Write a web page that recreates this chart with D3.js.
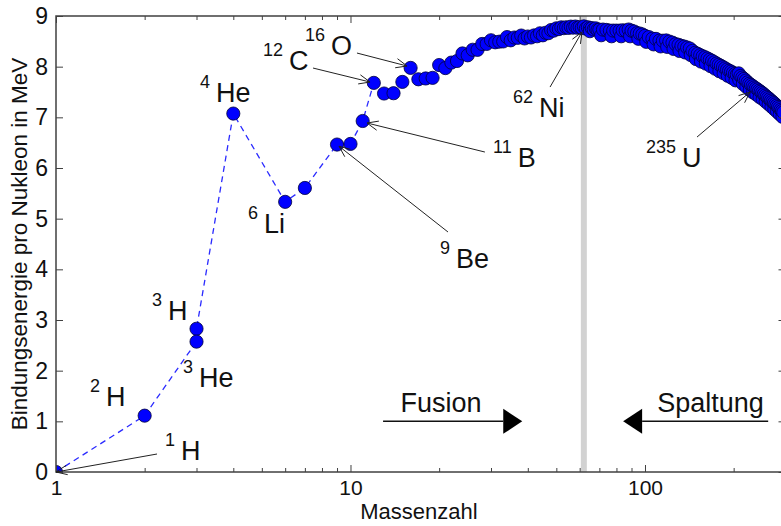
<!DOCTYPE html>
<html>
<head>
<meta charset="utf-8">
<script src="https://cdn.jsdelivr.net/npm/d3@7"></script>
<style>
  body { margin: 0; background: #fff; }
  svg { display: block; font-family: "Liberation Sans", Arial, sans-serif; }
</style>
</head>
<body>
<div id="chart"></div>
<script>
// mass number A and binding energy per nucleon (MeV)
const massNumber = [1, 2, 3, 3, 4, 6, 7, 9, 10, 11, 12, 13, 14, 15, 16, 17, 18, 19, 20,
  21, 22, 23, 24, 25, 26, 27, 28, 29, 30, 31, 32, 33, 34, 35, 36, 37, 38, 39, 40,
  41, 42, 43, 44, 45, 46, 47, 48, 49, 50, 51, 52, 53, 54, 55, 56, 57, 58, 59, 60,
  61, 62, 63, 64, 65, 66, 67, 68, 69, 70, 72, 74, 76, 78, 80, 82, 84, 86, 88, 90,
  92, 94, 96, 98, 100, 103, 106, 109, 112, 115, 118, 121, 124, 127, 130, 133, 136,
  139, 142, 145, 148, 151, 154, 157, 160, 163, 166, 169, 172, 175, 178, 181, 184,
  187, 190, 193, 196, 199, 202, 205, 208, 211, 214, 217, 220, 223, 226, 229, 232,
  235, 238, 241, 244, 247, 250, 253, 256, 259, 262, 265, 268, 271, 274, 277, 280,
  283, 286, 289, 292, 295];
const bindingEnergy = [0, 1.112, 2.827, 2.573, 7.074, 5.332, 5.606, 6.463, 6.475, 6.928,
  7.680, 7.470, 7.476, 7.699, 7.976, 7.751, 7.767, 7.779, 8.032,
  7.972, 8.080, 8.112, 8.261, 8.224, 8.334, 8.332, 8.448, 8.449, 8.521, 8.481, 8.493,
  8.498, 8.584, 8.520, 8.575, 8.570, 8.614, 8.557, 8.595,
  8.576, 8.616, 8.600, 8.658, 8.619, 8.669, 8.661, 8.723, 8.711, 8.756, 8.742, 8.776,
  8.760, 8.778, 8.765, 8.790, 8.770, 8.792, 8.768, 8.781,
  8.765, 8.795, 8.752, 8.777, 8.757, 8.760, 8.734, 8.756, 8.725, 8.730, 8.732, 8.725,
  8.711, 8.712, 8.711, 8.711, 8.718, 8.712, 8.733, 8.710,
  8.693, 8.660, 8.654, 8.635, 8.608, 8.584, 8.553, 8.548, 8.514, 8.512, 8.517, 8.495,
  8.474, 8.445, 8.431, 8.410, 8.396,
  8.378, 8.359, 8.312, 8.274, 8.253, 8.227, 8.205, 8.185, 8.162, 8.138, 8.115, 8.087,
  8.061, 8.038, 8.016, 7.990,
  7.967, 7.943, 7.920, 7.903, 7.880, 7.856, 7.840, 7.868, 7.815, 7.785, 7.757, 7.726,
  7.691, 7.662, 7.640, 7.615,
  7.591, 7.570, 7.550, 7.525, 7.505, 7.480, 7.455, 7.430, 7.405, 7.380, 7.355, 7.330,
  7.305, 7.280, 7.255, 7.230,
  7.205, 7.180, 7.150, 7.125, 7.100];
// further (less bound) isotopes that thicken the heavy band
const isoMass = [65, 71, 77, 83, 89, 95, 101, 107, 113, 119, 125, 131, 137, 143, 149,
  155, 161, 167, 173, 179, 185, 191, 197, 203, 209, 215, 221, 227, 233, 239, 245,
  251, 257, 263, 269, 275, 281, 287, 293];
const isoEnergy = [8.70, 8.62, 8.60, 8.60, 8.60, 8.55, 8.49, 8.44, 8.40, 8.39, 8.35,
  8.31, 8.28, 8.23, 8.15, 8.10, 8.06, 8.01, 7.96, 7.91, 7.87, 7.82, 7.78, 7.73, 7.74,
  7.66, 7.60, 7.54, 7.49, 7.45, 7.40, 7.36, 7.31, 7.26, 7.21, 7.16, 7.11, 7.06, 7.01];
// light nuclides joined by the dashed line (indices into the arrays above)
const lightChain = [0, 1, 3, 2, 4, 5, 6, 7, 8, 9, 10];

const xMajor = [1, 10, 100];
const xMinor = [2, 3, 4, 5, 6, 7, 8, 9, 20, 30, 40, 50, 60, 70, 80, 90, 200];
const yTicks = [0, 1, 2, 3, 4, 5, 6, 7, 8, 9];
const nickelA = 62;

// labels: superscript, symbol, label position, optional arrow [fromA, fromE, toA, toE]
const labels = [
  { sup: "1", sym: "H", a: 2.345, e: 0.237, arrow: [2.203, 0.355, 1.0, 0.0] },
  { sup: "2", sym: "H", a: 1.305, e: 1.303 },
  { sup: "3", sym: "H", a: 2.118, e: 3.0 },
  { sup: "3", sym: "He", a: 2.70, e: 1.678 },
  { sup: "4", sym: "He", a: 3.083, e: 7.302 },
  { sup: "6", sym: "Li", a: 4.487, e: 4.717 },
  { sup: "9", sym: "Be", a: 20.14, e: 4.026, arrow: [21.43, 4.737, 9.14, 6.43] },
  { sup: "11", sym: "B", a: 30.47, e: 6.019, arrow: [28.6, 6.315, 11.38, 6.888] },
  { sup: "12", sym: "C", a: 5.045, e: 7.934, arrow: [7.46, 7.973, 11.65, 7.697] },
  { sup: "16", sym: "O", a: 7.008, e: 8.23, arrow: [10.52, 8.269, 15.56, 8.013] },
  { sup: "62", sym: "Ni", a: 35.63, e: 7.006, arrow: [47.6, 7.598, 61.1, 8.684] },
  { sup: "235", sym: "U", a: 100.8, e: 6.019, arrow: [150.2, 6.611, 227.3, 7.5] }
];
// big process arrows: [fromA, toA, E], text at [A, E]
const processes = [
  { name: "Fusion", from: 12.9, to: 38.3, e: 1.0, ta: 20.3, te: 1.18 },
  { name: "Spaltung", from: 262, to: 84.3, e: 1.0, ta: 167, te: 1.18 }
];

const width = 781, height = 526;
const mLeft = 56, mRight = 785.5, mTop = 16, mBottom = 472;
const axisColor = "#404040";

const svg = d3.select("#chart").append("svg")
  .attr("width", width).attr("height", height);

const x = d3.scaleLog().domain([1, 300]).range([mLeft, mRight]);
const y = d3.scaleLinear().domain([0, 9]).range([mBottom, mTop]);

svg.append("defs").append("clipPath").attr("id", "plotclip")
  .append("rect").attr("x", mLeft).attr("y", mTop)
  .attr("width", mRight - mLeft).attr("height", mBottom - mTop);

const plot = svg.append("g").attr("clip-path", "url(#plotclip)");

// nickel-62 marker line
plot.append("line")
  .attr("x1", x(nickelA)).attr("x2", x(nickelA))
  .attr("y1", mTop).attr("y2", mBottom)
  .attr("stroke", "#d2d2d2").attr("stroke-width", 6);

// dashed line through the light nuclides
plot.append("path")
  .datum(lightChain)
  .attr("fill", "none")
  .attr("stroke", "#2a2aff")
  .attr("stroke-width", 1.3)
  .attr("stroke-dasharray", "6,4.5")
  .attr("d", d3.line().x(i => x(massNumber[i])).y(i => y(bindingEnergy[i])));

const points = massNumber.map((a, i) => ({ a: a, e: bindingEnergy[i] }))
  .concat(isoMass.map((a, i) => ({ a: a, e: isoEnergy[i] })))
  .sort((p, q) => p.a - q.a);

plot.append("g").selectAll("circle")
  .data(points)
  .join("circle")
  .attr("cx", d => x(d.a))
  .attr("cy", d => y(d.e))
  .attr("r", 6.6)
  .attr("fill", "#0000ff")
  .attr("stroke", "#00003a")
  .attr("stroke-width", 0.8);

// axes (ticks inward)
const tickFmt = d3.format("d");
function styleAxis(g) {
  g.select(".domain").remove();
  g.selectAll("line").attr("stroke", axisColor).attr("stroke-width", 1);
  g.selectAll("text").attr("fill", "#111").attr("font-family", "Liberation Sans, Arial, sans-serif");
}
svg.append("g").attr("transform", `translate(0,${mBottom})`)
  .call(d3.axisBottom(x).tickValues(xMajor).tickFormat(tickFmt).tickSizeInner(-7).tickSizeOuter(0).tickPadding(8))
  .call(styleAxis)
  .call(g => g.selectAll("text").attr("font-size", 21));
svg.append("g").attr("transform", `translate(0,${mBottom})`)
  .call(d3.axisBottom(x).tickValues(xMinor).tickFormat("").tickSizeInner(-4).tickSizeOuter(0))
  .call(styleAxis);
svg.append("g").attr("transform", `translate(0,${mTop})`)
  .call(d3.axisTop(x).tickValues(xMajor).tickFormat("").tickSizeInner(-7).tickSizeOuter(0))
  .call(styleAxis);
svg.append("g").attr("transform", `translate(0,${mTop})`)
  .call(d3.axisTop(x).tickValues(xMinor).tickFormat("").tickSizeInner(-4).tickSizeOuter(0))
  .call(styleAxis);
svg.append("g").attr("transform", `translate(${mLeft},0)`)
  .call(d3.axisLeft(y).tickValues(yTicks).tickFormat(tickFmt).tickSizeInner(-7).tickSizeOuter(0).tickPadding(8))
  .call(styleAxis)
  .call(g => g.selectAll("text").attr("font-size", 23));
svg.append("g").attr("transform", `translate(${mRight},0)`)
  .call(d3.axisRight(y).tickValues(yTicks).tickFormat("").tickSizeInner(-7).tickSizeOuter(0))
  .call(styleAxis);

svg.append("rect")
  .attr("x", mLeft).attr("y", mTop)
  .attr("width", mRight - mLeft).attr("height", mBottom - mTop)
  .attr("fill", "none").attr("stroke", axisColor).attr("stroke-width", 1.5);

// annotation arrows with open heads
function openArrow(x1, y1, x2, y2) {
  const ang = Math.atan2(y2 - y1, x2 - x1);
  const len = 12, spread = 0.4;
  const g = svg.append("g").attr("stroke", "#222").attr("stroke-width", 1).attr("fill", "none");
  g.append("line").attr("x1", x1).attr("y1", y1).attr("x2", x2).attr("y2", y2);
  g.append("path").attr("d",
    `M${x2 - len * Math.cos(ang - spread)},${y2 - len * Math.sin(ang - spread)}` +
    `L${x2},${y2}` +
    `L${x2 - len * Math.cos(ang + spread)},${y2 - len * Math.sin(ang + spread)}`);
}

labels.forEach(d => {
  if (d.arrow) {
    openArrow(x(d.arrow[0]), y(d.arrow[1]), x(d.arrow[2]), y(d.arrow[3]));
  }
  const t = svg.append("text")
    .attr("x", x(d.a)).attr("y", y(d.e))
    .attr("fill", "#111");
  t.append("tspan").attr("font-size", 18).attr("dy", -14).text(d.sup);
  t.append("tspan").attr("font-size", 27).attr("dx", 6).attr("dy", 14).text(d.sym);
});

// Fusion / Spaltung arrows
processes.forEach(d => {
  const x1 = x(d.from), x2 = x(d.to), yy = y(d.e);
  const dir = Math.sign(x2 - x1);
  const headLen = 19, headHalf = 12.5;
  svg.append("line")
    .attr("x1", x1).attr("x2", x2 - dir * headLen)
    .attr("y1", yy).attr("y2", yy)
    .attr("stroke", "#111").attr("stroke-width", 1.5);
  svg.append("path")
    .attr("d", `M${x2},${yy}L${x2 - dir * headLen},${yy - headHalf}L${x2 - dir * headLen},${yy + headHalf}Z`)
    .attr("fill", "#000");
  svg.append("text")
    .attr("x", x(d.ta)).attr("y", y(d.te))
    .attr("text-anchor", "middle")
    .attr("font-size", 27)
    .attr("fill", "#111")
    .text(d.name);
});

// axis titles
svg.append("text")
  .attr("x", 419).attr("y", 519)
  .attr("text-anchor", "middle").attr("font-size", 22).attr("fill", "#111")
  .text("Massenzahl");
svg.append("text")
  .attr("transform", `translate(27,${(mTop + mBottom) / 2}) rotate(-90)`)
  .attr("text-anchor", "middle").attr("font-size", 22.5).attr("fill", "#111")
  .text("Bindungsenergie pro Nukleon in MeV");
</script>
</body>
</html>
